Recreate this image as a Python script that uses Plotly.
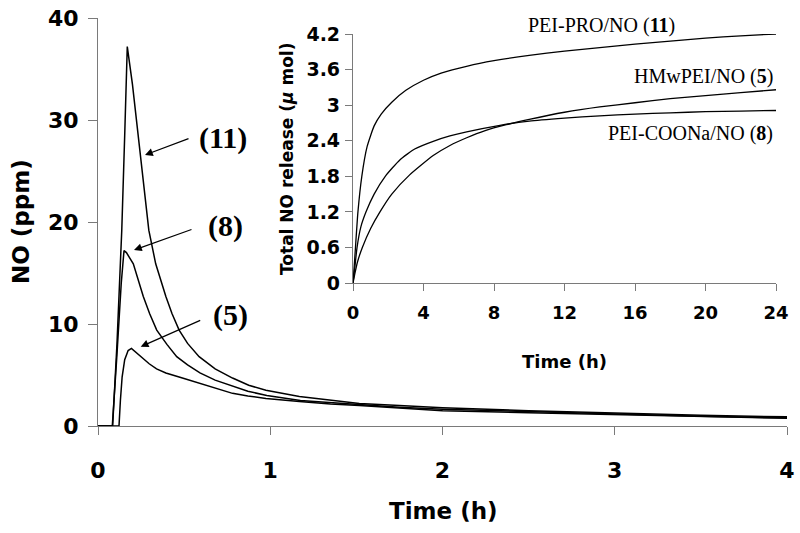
import plotly.graph_objects as go

# ---- main panel: NO concentration (ppm) vs time (h)
t11 = [0, 0.085, 0.11, 0.138, 0.155, 0.17, 0.2, 0.24, 0.27, 0.295, 0.335, 0.394, 0.43, 0.471,
       0.52, 0.587, 0.68, 0.781, 0.875, 0.975, 1.169, 1.35, 1.517, 1.75, 2.0, 2.5, 3.0, 3.5, 4.0]
no11 = [0, 0, 8.0, 19.2, 28.5, 37.2, 33.5, 27.5, 23.0, 19.2, 15.9, 12.7, 11.0, 9.4,
        8.1, 6.8, 5.6, 4.7, 4.0, 3.5, 2.9, 2.5, 2.2, 2.0, 1.8, 1.5, 1.25, 1.05, 0.9]

t8 = [0, 0.083, 0.11, 0.135, 0.151, 0.165, 0.205, 0.263, 0.3, 0.341, 0.4, 0.457, 0.52, 0.592,
      0.68, 0.785, 0.87, 0.98, 1.07, 1.175, 1.3, 1.52, 1.75, 2.0, 2.5, 3.0, 3.5, 4.0]
no8 = [0, 0, 7.0, 14.0, 17.2, 17.0, 15.9, 12.7, 11.0, 9.4, 8.0, 6.8, 6.0, 5.2,
       4.5, 3.9, 3.4, 3.0, 2.75, 2.5, 2.35, 2.1, 1.85, 1.65, 1.4, 1.15, 0.95, 0.8]

t5 = [0, 0.122, 0.13, 0.14, 0.155, 0.175, 0.194, 0.24, 0.297, 0.34, 0.394, 0.49, 0.587, 0.68,
      0.781, 0.87, 0.975, 1.169, 1.35, 1.517, 1.75, 2.0, 2.5, 3.0, 3.5, 4.0]
no5 = [0, 0, 2.5, 4.8, 6.5, 7.4, 7.6, 6.9, 6.1, 5.6, 5.2, 4.7, 4.2, 3.7,
       3.2, 2.95, 2.7, 2.4, 2.15, 2.0, 1.75, 1.5, 1.3, 1.1, 0.9, 0.75]

# ---- inset: total NO release (umol) vs time (h)
h11 = [0, 0.05, 0.14, 0.28, 0.5, 0.8, 1.2, 1.6, 2.2, 3, 4, 5, 6.5, 8, 10, 12, 14, 16, 18, 20, 22, 24]
r11 = [0, 0.2, 0.6, 1.2, 1.8, 2.3, 2.65, 2.85, 3.05, 3.25, 3.42, 3.54, 3.66, 3.75, 3.84, 3.91, 3.97, 4.03, 4.08, 4.13, 4.17, 4.2]

h8 = [0, 0.1, 0.23, 0.45, 0.74, 1.2, 1.83, 2.67, 3.5, 4.55, 5.5, 6.45, 8.34, 10, 12, 14, 16, 18, 20, 22, 24]
r8 = [0, 0.25, 0.6, 0.95, 1.2, 1.5, 1.8, 2.08, 2.26, 2.39, 2.48, 2.55, 2.66, 2.73, 2.78, 2.82, 2.85, 2.87, 2.89, 2.9, 2.91]

h5 = [0, 0.1, 0.25, 0.53, 1.0, 1.53, 2.2, 3.2, 4.55, 5.5, 6.45, 7.5, 8.7, 10, 12, 14, 16, 18, 20, 22, 24]
r5 = [0, 0.15, 0.35, 0.6, 0.92, 1.2, 1.5, 1.82, 2.15, 2.32, 2.45, 2.57, 2.67, 2.76, 2.88, 2.97, 3.04, 3.11, 3.16, 3.21, 3.26]

main_xticks = [0, 1, 2, 3, 4]
main_yticks = [0, 10, 20, 30, 40]
inset_xticks = [0, 4, 8, 12, 16, 20, 24]
inset_yticks = [0, 0.6, 1.2, 1.8, 2.4, 3, 3.6, 4.2]
inset_ytext = ["0", "0.6", "1.2", "1.8", "2.4", "3", "3.6", "4.2"]

fig = go.Figure()
line_main = dict(color="black", width=1.5)
for t, v in [(t11, no11), (t8, no8), (t5, no5)]:
    fig.add_trace(go.Scatter(x=t, y=v, mode="lines", line=line_main,
                             xaxis="x", yaxis="y", showlegend=False, hoverinfo="skip"))
line_in = dict(color="black", width=1.3, shape="spline", smoothing=0.5)
for h, r in [(h11, r11), (h8, r8), (h5, r5)]:
    fig.add_trace(go.Scatter(x=h, y=r, mode="lines", line=line_in,
                             xaxis="x2", yaxis="y2", showlegend=False, hoverinfo="skip"))

L, R, T, B = 98, 13, 18, 107
W, H = 800, 533
PW, PH = W - L - R, H - T - B


def px(x):
    return (x - L) / PW


def py(y):
    return (H - B - y) / PH


sans = dict(family="DejaVu Sans", color="black", weight="bold")
axcol = "#7a7a7a"
common = dict(showgrid=False, zeroline=False, showline=True, linecolor=axcol,
              linewidth=1.2, ticks="outside", tickcolor=axcol, tickwidth=1.2,
              automargin=False)

fig.update_layout(
    width=W, height=H,
    margin=dict(l=L, r=R, t=T, b=B, pad=0),
    paper_bgcolor="white", plot_bgcolor="white",
    xaxis=dict(range=[0, 4], tickvals=main_xticks, ticklen=8,
               tickfont=dict(size=22, **sans), ticklabelstandoff=16,
               domain=[0, 1], **common),
    yaxis=dict(range=[0, 40], tickvals=main_yticks, ticklen=9,
               tickfont=dict(size=22, **sans), ticklabelstandoff=5,
               domain=[0, 1], **common),
    xaxis2=dict(range=[0, 24], tickvals=inset_xticks, ticklen=7, anchor="y2",
                tickfont=dict(size=18, **sans), ticklabelstandoff=6,
                domain=[px(353), px(776)], **common),
    yaxis2=dict(range=[0, 4.2], tickvals=inset_yticks, ticktext=inset_ytext,
                ticklen=7, anchor="x2",
                tickfont=dict(size=19, **sans), ticklabelstandoff=1,
                domain=[py(283), py(34)], **common),
)

annos = []
# axis titles
annos.append(dict(text="NO (ppm)", x=px(21), y=py(222), xref="paper", yref="paper",
                  textangle=-90, showarrow=False, font=dict(size=23, **sans),
                  xanchor="center", yanchor="middle"))
annos.append(dict(text="Time (h)", x=px(443), y=py(511), xref="paper", yref="paper",
                  showarrow=False, font=dict(size=23, **sans),
                  xanchor="center", yanchor="middle"))
annos.append(dict(text="Total NO release (<i>μ</i> mol)", x=px(287), y=py(159), xref="paper",
                  yref="paper", textangle=-90, showarrow=False, font=dict(size=17, **sans),
                  xanchor="center", yanchor="middle"))
annos.append(dict(text="Time (h)", x=px(564), y=py(361), xref="paper", yref="paper",
                  showarrow=False, font=dict(size=18, **sans),
                  xanchor="center", yanchor="middle"))

serif_b = dict(family="Liberation Serif", color="black", size=30, weight="bold")
serif = dict(family="Liberation Serif", color="black", size=20)
# compound labels with arrows (main)
for lab, cx, cy, tipx, tipy, axp, ayp in [
    ("(11)", 223, 138, 145, 155, 45, -17),
    ("(8)", 225, 226, 134, 250, 59, -21),
    ("(5)", 230, 315, 140.7, 346.7, 61, -27),
]:
    annos.append(dict(text=lab, x=px(cx), y=py(cy), xref="paper", yref="paper",
                      showarrow=False, font=serif_b, xanchor="center", yanchor="middle"))
    annos.append(dict(text="", x=px(tipx), y=py(tipy), xref="paper", yref="paper",
                      showarrow=True, ax=axp, ay=ayp, arrowhead=2, arrowsize=1.3,
                      arrowwidth=1.2, arrowcolor="black"))

# inset series labels
for lab, rx, cy in [
    ("PEI-PRO/NO (<b>11</b>)", 677, 25),
    ("HMwPEI/NO (<b>5</b>)", 775, 76),
    ("PEI-COONa/NO (<b>8</b>)", 775, 133),
]:
    annos.append(dict(text=lab, x=px(rx), y=py(cy), xref="paper", yref="paper",
                      showarrow=False, font=serif, xanchor="right", yanchor="middle"))

fig.update_layout(annotations=annos)
fig.write_html("out.html", config={"displayModeBar": False},
               post_script="document.body.style.margin='0';document.body.style.overflow='hidden';")
